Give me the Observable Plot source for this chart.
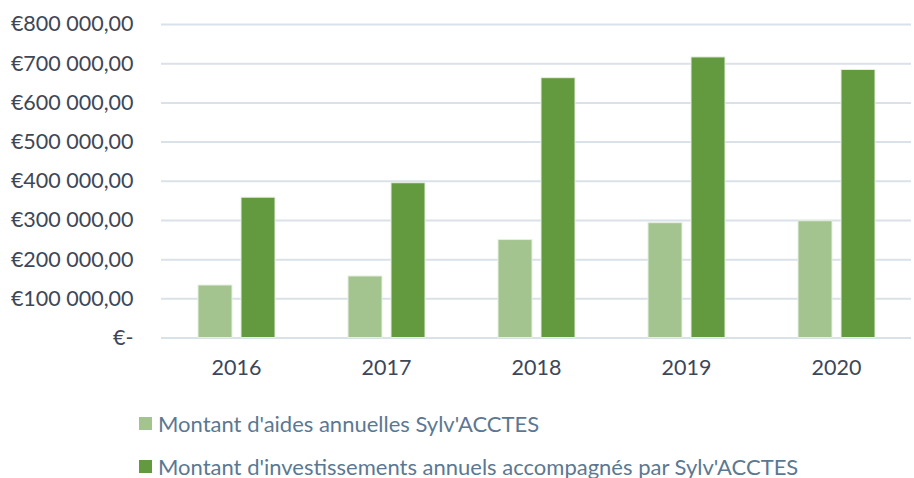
<!DOCTYPE html>
<html>
<head>
<meta charset="utf-8">
<script src="https://cdn.jsdelivr.net/npm/d3@7"></script>
<script src="https://cdn.jsdelivr.net/npm/@observablehq/plot@0.6"></script>
<style>
  html, body { margin: 0; padding: 0; background: #fff; }
  body { width: 914px; height: 478px; overflow: hidden; font-family: Lato, "Open Sans", sans-serif; }
  #legend { position: absolute; left: 139px; top: 402px; }
  .item { display: flex; align-items: center; height: 43px; font-size: 22px; color: #5b7892; line-height: 1; }
  .sw { width: 13px; height: 13px; margin-right: 6px; flex: none; }
</style>
</head>
<body>
<div id="chart"></div>
<div id="legend"></div>
<script>
const years = ["2016", "2017", "2018", "2019", "2020"];
const seriesNames = [
  "Montant d'aides annuelles Sylv'ACCTES",
  "Montant d'investissements annuels accompagnés par Sylv'ACCTES"
];
const aides = [134000, 157000, 250000, 293000, 298000];
const investissements = [358000, 395000, 663000, 716000, 684000];
const yTicks = [0, 100000, 200000, 300000, 400000, 500000, 600000, 700000, 800000];
const colors = ["#a3c48f", "#639a3f"];

const data = [];
years.forEach((yr, i) => {
  data.push({year: yr, series: seriesNames[0], value: aides[i]});
  data.push({year: yr, series: seriesNames[1], value: investissements[i]});
});

const loc = d3.formatLocale({decimal: ",", thousands: " ", grouping: [3], currency: ["€", ""]});
const fmt = loc.format("$,.2f");

const chart = Plot.plot({
  width: 914,
  height: 392,
  marginLeft: 160,
  marginRight: 2,
  marginTop: 24,
  marginBottom: 54.5,
  style: {fontFamily: "Lato, 'Open Sans', sans-serif", fontSize: "21.5px", color: "#3d4757", background: "#fff"},
  fx: {domain: years, padding: 0, label: null, axis: "bottom", tickSize: 0, tickPadding: 22},
  x: {domain: seriesNames, paddingInner: 0.215, paddingOuter: 0.844, axis: null},
  y: {domain: [0, 800000], ticks: yTicks, tickFormat: d => d === 0 ? "€-" : fmt(d), tickSize: 0, tickPadding: 28, label: null},
  color: {domain: seriesNames, range: colors},
  marks: [
    Plot.ruleY(yTicks, {stroke: "#d9e1e9", strokeWidth: 2}),
    Plot.barY(data, {fx: "year", x: "series", y: "value", fill: "series", stroke: "#e6efe0", strokeWidth: 1})
  ]
});
document.getElementById("chart").appendChild(chart);

const legend = document.getElementById("legend");
seriesNames.forEach((name, i) => {
  const item = document.createElement("div");
  item.className = "item";
  const sw = document.createElement("span");
  sw.className = "sw";
  sw.style.background = colors[i];
  const t = document.createElement("span");
  t.textContent = name;
  item.appendChild(sw);
  item.appendChild(t);
  legend.appendChild(item);
});
</script>
</body>
</html>
